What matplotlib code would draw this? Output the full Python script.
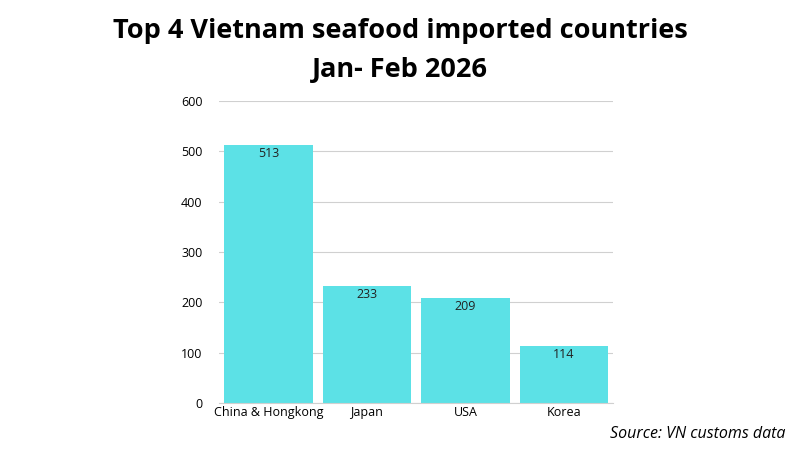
import matplotlib
matplotlib.use("Agg")
import matplotlib.pyplot as plt

countries = ["China & Hongkong", "Japan", "USA", "Korea"]
values = [513, 233, 209, 114]
yticks = [0, 100, 200, 300, 400, 500, 600]

fig = plt.figure(figsize=(8, 4.5), dpi=100)
ax = fig.add_axes([0.274, 0.1044, 0.4925, 0.6712])
bars = ax.bar(range(len(values)), values, width=0.9, color="#5ce1e6", zorder=2)
ax.set_xlim(-0.5, 3.5)
ax.set_ylim(0, 600)
ax.set_yticks(yticks)
ax.set_xticks(range(len(countries)))
ax.set_xticklabels(countries, fontsize=9, family="Open Sans")
ax.tick_params(axis="y", labelsize=9, length=0, pad=12)
ax.tick_params(axis="x", length=0, pad=2)
for lbl in ax.get_yticklabels():
    lbl.set_family("Open Sans")
ax.grid(axis="y", color="#d0d0d0", linewidth=0.8, zorder=0)
for s in ["top", "right", "left"]:
    ax.spines[s].set_visible(False)
ax.spines["bottom"].set_color("#d0d0d0")
for b, v in zip(bars, values):
    ax.text(b.get_x() + b.get_width() / 2, v - 4, str(v), ha="center", va="top",
            fontsize=9, family="Open Sans", color="#222222", zorder=3)

fig.text(0.5, 0.93, "Top 4 Vietnam seafood imported countries", ha="center", va="center",
         fontsize=19.5, fontweight="bold", family="Open Sans")
fig.text(0.5, 0.845, "Jan- Feb 2026", ha="center", va="center",
         fontsize=19.5, fontweight="bold", family="Open Sans")
fig.text(0.982, 0.035, "Source: VN customs data", ha="right", va="center",
         fontsize=11.5, style="italic", family="Open Sans")
fig.savefig("out.png", dpi=100)
